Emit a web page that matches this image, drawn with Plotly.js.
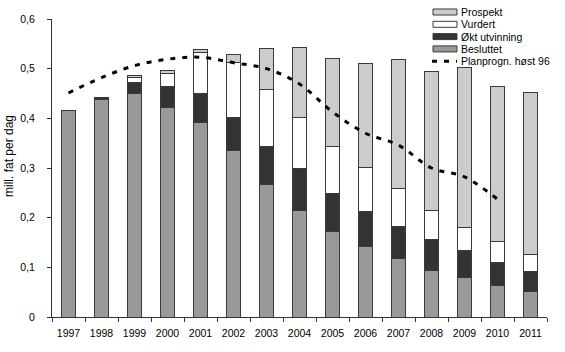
<!DOCTYPE html>
<html><head><meta charset="utf-8">
<script src="https://cdn.plot.ly/plotly-3.0.1.min.js"></script>
<style>html,body{margin:0;padding:0;background:#fff}#chart{width:565px;height:352px}</style>
</head><body><div id="chart"></div>
<script>
// Categories
const years = ['1997','1998','1999','2000','2001','2002','2003','2004','2005','2006','2007','2008','2009','2010','2011'];
// Stacked segment values (mill. fat per dag)
const besluttet = [0.416,0.438,0.451,0.421,0.391,0.335,0.266,0.214,0.172,0.142,0.117,0.093,0.079,0.063,0.051];
const oktUtvinning = [null,0.003,0.022,0.043,0.059,0.067,0.078,0.084,0.077,0.071,0.066,0.063,0.054,0.047,0.041];
const vurdert = [null,null,0.010,0.026,0.083,0.110,0.114,0.104,0.095,0.088,0.075,0.059,0.047,0.042,0.034];
const prospekt = [null,null,0.004,0.006,0.006,0.017,0.083,0.141,0.177,0.209,0.260,0.280,0.323,0.313,0.326];
// Planprognose høst 96
const planprogn = [0.451,0.482,0.506,0.519,0.523,0.512,0.500,0.469,0.413,0.370,0.346,0.300,0.282,0.237,null];
// Axis ticks
const yTickVals = [0,0.1,0.2,0.3,0.4,0.5,0.6];
const yTickText = ['0','0,1','0,2','0,3','0,4','0,5','0,6'];
const seriesNames = ['Prospekt','Vurdert','Økt utvinning','Besluttet','Planprogn. høst 96'];
const yTitle = 'mill. fat per dag';

const colors = {Prospekt:'#cccccc', Vurdert:'#ffffff', 'Økt utvinning':'#333333', Besluttet:'#999999'};
const outline = {color:'#3a3a3a', width:1};
const FONT = 'Liberation Sans, Arial, Helvetica, sans-serif';

function bar(name, vals){
  return {type:'bar', x:years, y:vals, name:name, showlegend:false,
    marker:{color:colors[name], line:outline}, hoverinfo:'skip'};
}
const traces = [
  bar('Besluttet', besluttet),
  bar('Økt utvinning', oktUtvinning),
  bar('Vurdert', vurdert),
  bar('Prospekt', prospekt),
  {type:'scatter', mode:'lines', x:years, y:planprogn, name:seriesNames[4], showlegend:false,
   line:{color:'#000', width:3, dash:'5px,7px', shape:'spline', smoothing:1}, connectgaps:false, hoverinfo:'skip'}
];

// Manual legend (compact spacing like the reference)
const W = 565, H = 352, L = 52, R = 18, T = 19, B = 35;
const pw = W - L - R, ph = H - T - B;
const px2x = p => (p - L) / pw;
const py2y = p => (H - B - p) / ph;
const shapes = [], annotations = [];
const rowY0 = 12, rowStep = 12.3;
seriesNames.forEach((nm, i) => {
  const cy = rowY0 + i * rowStep;
  if (i < 4) {
    shapes.push({type:'rect', xref:'paper', yref:'paper',
      x0:px2x(433), x1:px2x(457), y0:py2y(cy+3), y1:py2y(cy-3),
      fillcolor:colors[nm], line:{color:'#3a3a3a', width:1}});
  } else {
    shapes.push({type:'line', xref:'paper', yref:'paper',
      x0:px2x(432), x1:px2x(457), y0:py2y(cy), y1:py2y(cy),
      line:{color:'#000', width:3, dash:'5px,7px'}});
  }
  annotations.push({xref:'paper', yref:'paper', x:px2x(459), y:py2y(cy), xanchor:'left', yanchor:'middle',
    text:nm, showarrow:false, font:{family:FONT, size:10.5, color:'#000'}});
});
// Y axis title (placed slightly above centre, as in the reference)
annotations.push({xref:'paper', yref:'paper', x:px2x(9), y:py2y(156), xanchor:'center', yanchor:'middle',
  text:yTitle, textangle:-90, showarrow:false, font:{family:FONT, size:12, color:'#000'}});

const layout = {
  width:W, height:H, margin:{l:L, r:R, t:T, b:B},
  paper_bgcolor:'#fff', plot_bgcolor:'#fff',
  barmode:'stack', bargap:0.6, showlegend:false,
  font:{family:FONT, size:10.5, color:'#000'},
  xaxis:{type:'category', showline:true, linecolor:'#333', linewidth:1, ticks:'outside', ticklen:4,
    tickcolor:'#333', tickson:'boundaries', showgrid:false, zeroline:false, ticklabelstandoff:6,
    tickfont:{family:FONT, size:10.5}},
  yaxis:{range:[0,0.6], tickvals:yTickVals, ticktext:yTickText, showline:true, linecolor:'#333', linewidth:1,
    ticks:'outside', ticklen:4, tickcolor:'#333', showgrid:false, zeroline:false, ticklabelstandoff:10,
    tickfont:{family:FONT, size:10.5}},
  shapes:shapes, annotations:annotations
};
Plotly.newPlot('chart', traces, layout, {staticPlot:true, displayModeBar:false});
</script></body></html>
